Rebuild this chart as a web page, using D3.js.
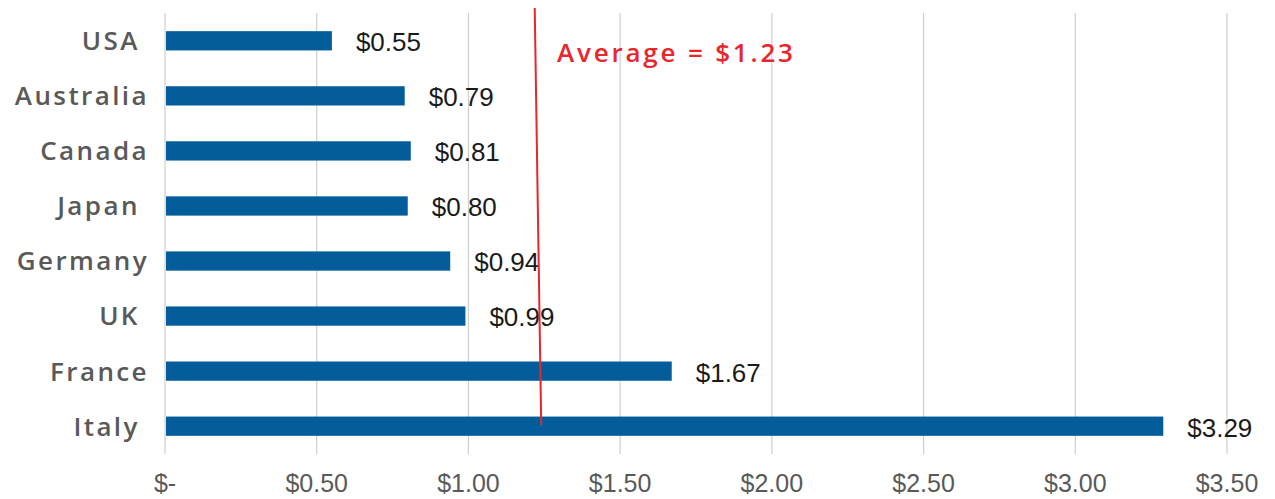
<!DOCTYPE html>
<html>
<head>
<meta charset="utf-8">
<script src="https://cdn.jsdelivr.net/npm/d3@7"></script>
<style>
  html, body { margin: 0; padding: 0; background: #fff; }
  #chart { width: 1275px; height: 499px; }
  .cat { font-family: "Open Sans", sans-serif; font-weight: 600; font-size: 26px; fill: #595959; letter-spacing: 2.4px; white-space: pre; }
  .val { font-family: "Liberation Sans", Arial, sans-serif; font-size: 26px; fill: #1a1a1a; }
  .tick-label { font-family: "Liberation Sans", Arial, sans-serif; font-size: 25px; fill: #595959; }
  .avg-label { font-family: "Open Sans", sans-serif; font-weight: 600; font-size: 26px; fill: #e8262b; letter-spacing: 2.8px; }
</style>
</head>
<body>
<div id="chart"></div>
<script>
// data
const countries = ["USA", "Australia", "Canada", "Japan", "Germany", "UK", "France", "Italy"];
const prices = [0.55, 0.79, 0.81, 0.80, 0.94, 0.99, 1.67, 3.29];
const tickValues = [0, 0.5, 1.0, 1.5, 2.0, 2.5, 3.0, 3.5];
const tickLabels = ["$-", "$0.50", "$1.00", "$1.50", "$2.00", "$2.50", "$3.00", "$3.50"];
const average = 1.23;

const width = 1275, height = 499;
const svg = d3.select("#chart").append("svg").attr("width", width).attr("height", height);

// scales
const x = d3.scaleLinear().domain([0, 3.5]).range([165, 1227]);
const y = d3.scaleBand().domain(countries).range([13, 454]).paddingInner(0.65).paddingOuter(0.33);

// gridlines
svg.append("g")
  .selectAll("line")
  .data(tickValues)
  .join("line")
  .attr("x1", (d) => x(d))
  .attr("x2", (d) => x(d))
  .attr("y1", 13)
  .attr("y2", 454)
  .attr("stroke", "#cfcfcf")
  .attr("stroke-width", 1.2);

// tick labels
svg.append("g")
  .selectAll("text")
  .data(tickValues)
  .join("text")
  .attr("class", "tick-label")
  .attr("x", (d) => x(d))
  .attr("y", 492)
  .attr("text-anchor", "middle")
  .text((d, i) => tickLabels[i]);

// bars
svg.append("g")
  .selectAll("rect")
  .data(prices)
  .join("rect")
  .attr("x", x(0) + 1)
  .attr("y", (d, i) => y(countries[i]))
  .attr("width", (d) => x(d) - x(0) - 1)
  .attr("height", y.bandwidth())
  .attr("fill", "#035d9b");

// value labels
svg.append("g")
  .selectAll("text")
  .data(prices)
  .join("text")
  .attr("class", "val")
  .attr("x", (d) => x(d) + 24)
  .attr("y", (d, i) => y(countries[i]) + y.bandwidth() / 2 + 1)
  .attr("dy", "0.36em")
  .text((d) => "$" + d.toFixed(2));

// category labels
const catLabels = ["USA ", "Australia", "Canada", "Japan ", "Germany", "UK ", "France", "Italy "];
svg.append("g")
  .selectAll("text")
  .data(countries)
  .join("text")
  .attr("class", "cat")
  .attr("x", 149)
  .attr("y", (d) => y(d) + y.bandwidth() / 2)
  .attr("dy", "0.36em")
  .attr("text-anchor", "end")
  .text((d, i) => catLabels[i]);

// average line (drawn slightly slanted, as in the original)
svg.append("line")
  .attr("x1", x(average) - 3.5)
  .attr("y1", 8)
  .attr("x2", x(average) + 3)
  .attr("y2", 425)
  .attr("stroke", "#e8262b")
  .attr("stroke-width", 2);

svg.append("text")
  .attr("class", "avg-label")
  .attr("x", 557)
  .attr("y", 62)
  .text("Average = $" + average.toFixed(2));
</script>
</body>
</html>
